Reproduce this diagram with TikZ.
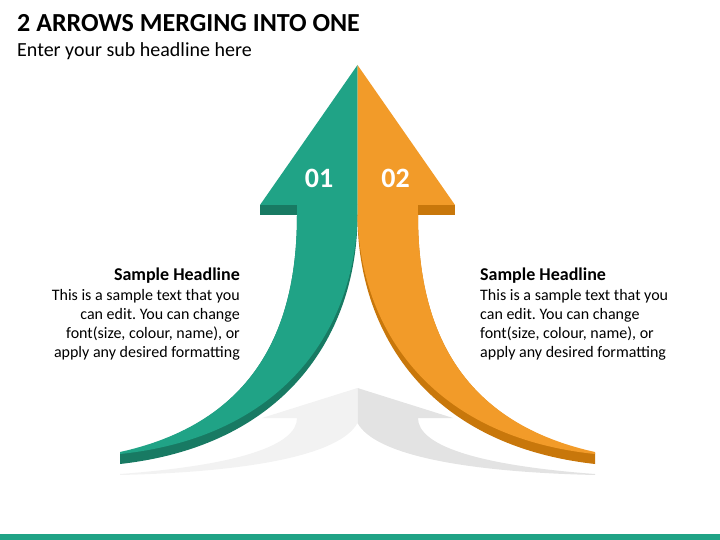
\documentclass[tikz,border=0pt]{standalone}
\usepackage{fontspec}
\setmainfont{Carlito}
\usepackage{xcolor}
\usepackage{tikz}
\usetikzlibrary{positioning,calc}
\frenchspacing

\definecolor{arrowteal}{HTML}{20A386}
\definecolor{arrowtealdark}{HTML}{187A63}
\definecolor{arroworange}{HTML}{F29B29}
\definecolor{arroworangedark}{HTML}{C8770B}
\definecolor{shadowlight}{HTML}{F2F2F2}
\definecolor{shadowdark}{HTML}{E3E3E3}

\begin{document}
\begin{tikzpicture}[
    x=1pt, y=-1pt,
    headtext/.style={anchor=base west, inner sep=0pt, font=\fontsize{26}{31}\selectfont\bfseries},
    subtext/.style={anchor=base west, inner sep=0pt, font=\fontsize{20}{24}\selectfont},
    numtext/.style={anchor=base, inner sep=0pt, text=white, font=\fontsize{28}{34}\selectfont\bfseries},
    boxhead/.style={inner sep=0pt, font=\fontsize{18}{22}\selectfont\bfseries},
    bodytext/.style={inner sep=0pt, font=\fontsize{16}{19}\selectfont}
]
    \useasboundingbox (0,0) rectangle (720,540);

    % Titles
    \node[headtext] (t) at (17,32) {2 ARROWS MERGING INTO ONE};
    \node[subtext] (st) at (17,57) {Enter your sub headline here};

    % Shadow
    \fill[shadowlight] (357.5,388) -- (262,418) -- (297,418) .. controls (297,445) and (240,465) .. (120,474) -- (120,475) .. controls (250,472) and (340,455) .. (357.5,423) -- cycle;
    \fill[shadowdark] (357.5,388) -- (453,418) -- (418,418) .. controls (418,445) and (475,465) .. (595,474) -- (595,475) .. controls (465,472) and (375,455) .. (357.5,423) -- cycle;

    % Left arrow
    \fill[arrowtealdark] (297,215) .. controls (297,315) and (265,420) .. (120,453) -- (120,464) .. controls (290,445) and (357.5,330) .. (357.5,215) -- cycle;
    \fill[arrowteal] (297,205) -- (297,215) .. controls (297,315) and (265,420) .. (120,452) -- (120,454) .. controls (283,437) and (355,330) .. (357.5,215) -- (357.5,205) -- cycle;
    \fill[arrowteal] (357.5,65) -- (260,205) -- (357.5,205) -- cycle;
    \fill[arrowtealdark] (260,205) rectangle (297,215);

    % Right arrow
    \fill[arroworangedark] (418,215) .. controls (418,315) and (450,420) .. (595,453) -- (595,464) .. controls (425,445) and (357.5,330) .. (357.5,215) -- cycle;
    \fill[arroworange] (418,205) -- (418,215) .. controls (418,315) and (450,420) .. (595,452) -- (595,454) .. controls (432,437) and (360,330) .. (357.5,215) -- (357.5,205) -- cycle;
    \fill[arroworange] (357.5,65) -- (455,205) -- (357.5,205) -- cycle;
    \fill[arroworangedark] (418,205) rectangle (455,215);

    % Numbers
    \node[numtext] (n1) at (319,188) {01};
    \node[numtext] (n2) at (395.5,188) {02};

    % Text boxes
    \node[boxhead, anchor=base east] (h1) at (240,280) {Sample Headline};
    \node[bodytext, align=right, anchor=north east] (b1) at (240,289.5) {This is a sample text that you\\can edit. You can change\\font(size, colour, name), or\\apply any desired formatting};
    \node[boxhead, anchor=base west] (h2) at (480,280) {Sample Headline};
    \node[bodytext, align=left, anchor=north west] (b2) at (480,289.5) {This is a sample text that you\\can edit. You can change\\font(size, colour, name), or\\apply any desired formatting};

    % Bottom stripe
    \fill[arrowteal] (0,534) rectangle (720,540);
\end{tikzpicture}
\end{document}
